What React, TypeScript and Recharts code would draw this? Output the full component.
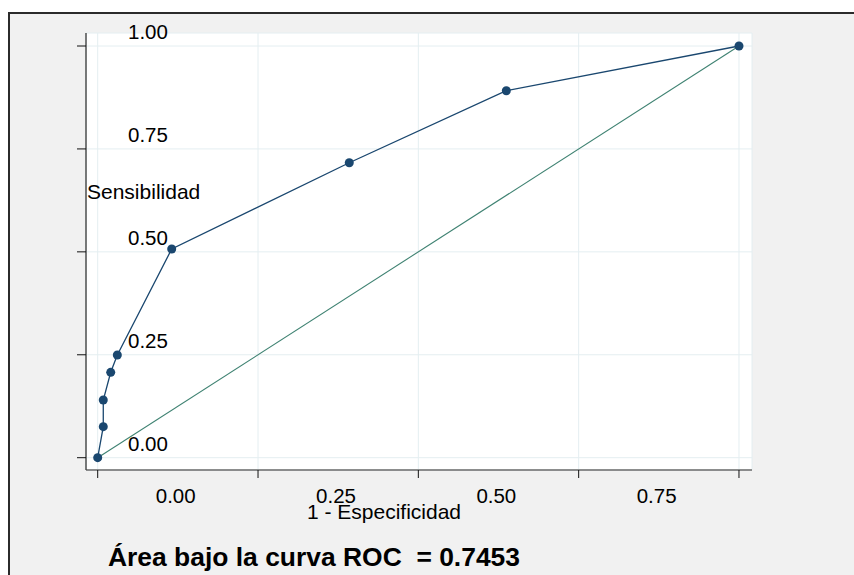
import React from 'react';
import { LineChart, Line, XAxis, YAxis, CartesianGrid } from 'recharts';

// ROC curve points (1 - specificity, sensitivity)
const fpr = [0, 0.0087, 0.0087, 0.0203, 0.0306, 0.1154, 0.3923, 0.6372, 1];
const sens = [0, 0.0753, 0.14, 0.2074, 0.2494, 0.5069, 0.7165, 0.8914, 1];
// reference (chance) line
const refX = [0, 1];
const refY = [0, 1];

const xTicks = [0, 0.25, 0.5, 0.75, 1];
const yTicks = [0, 0.25, 0.5, 0.75, 1];
const xTickLabels = ['0.00', '0.25', '0.50', '0.75', ''];
const yTickLabels = ['0.00', '0.25', '0.50', '0.75', '1.00'];

const xTitle = '1 - Especificidad';
const yTitle = 'Sensibilidad';
const noteText = 'Área bajo la curva ROC  = 0.7453';

const rocData = fpr.map((x, i) => ({ x, y: sens[i] }));
const refData = refX.map((x, i) => ({ x, y: refY[i] }));

const FONT = '"Liberation Sans", Arial, Helvetica, sans-serif';
const NAVY = '#1a476f';
const TEAL = '#3f8272';

const XTick = (props: any) => {
  const { x, y, payload } = props;
  const i = xTicks.indexOf(payload.value);
  const label = i >= 0 ? xTickLabels[i] : '';
  if (!label) return <g />;
  return (
    <text x={x + 78} y={y + 23} textAnchor="middle" fontSize={20.5} fill="#000" fontFamily={FONT}>
      {label}
    </text>
  );
};

const YTick = (props: any) => {
  const { x, y, payload } = props;
  const i = yTicks.indexOf(payload.value);
  const label = i >= 0 ? yTickLabels[i] : '';
  return (
    <text x={x + 53} y={y - 7} textAnchor="start" fontSize={20.5} fill="#000" fontFamily={FONT}>
      {label}
    </text>
  );
};

export default function App() {
  return (
    <div style={{ position: 'absolute', left: 0, top: 0, width: 854, height: 575, background: '#fff', overflow: 'hidden' }}>
      <div
        style={{
          position: 'absolute',
          left: 8,
          top: 12,
          width: 860,
          height: 580,
          background: '#f1f1f1',
          borderTop: '2px solid #2b2b2b',
          borderLeft: '2px solid #2b2b2b',
        }}
      />
      <div style={{ position: 'absolute', left: 0, top: 0 }}>
        <LineChart width={854} height={575} margin={{ top: 33, right: 102, bottom: 0, left: 8 }}>
          <CartesianGrid fill="#ffffff" stroke="#e4eef1" strokeWidth={1} />
          <XAxis
            type="number"
            dataKey="x"
            domain={[-0.01824, 1.0203]}
            ticks={xTicks}
            allowDataOverflow
            height={105}
            tickSize={8}
            tick={<XTick />}
            axisLine={{ stroke: '#6a6a6a', strokeWidth: 1.6 }}
            tickLine={{ stroke: '#111', strokeWidth: 1 }}
          />
          <YAxis
            type="number"
            dataKey="y"
            domain={[-0.0299, 1.0316]}
            ticks={yTicks}
            allowDataOverflow
            width={78}
            tickSize={9}
            tick={<YTick />}
            axisLine={{ stroke: '#444', strokeWidth: 1.4 }}
            tickLine={{ stroke: '#111', strokeWidth: 1 }}
          />
          <Line
            data={refData}
            dataKey="y"
            stroke={TEAL}
            strokeWidth={1.1}
            dot={false}
            isAnimationActive={false}
          />
          <Line
            data={rocData}
            dataKey="y"
            stroke={NAVY}
            strokeWidth={1.3}
            dot={{ r: 4.5, fill: NAVY, stroke: NAVY, strokeWidth: 0 }}
            isAnimationActive={false}
          />
        </LineChart>
      </div>
      <svg
        width={854}
        height={575}
        style={{ position: 'absolute', left: 0, top: 0, pointerEvents: 'none' }}
      >
        <text x={87} y={199} fontSize={21} fill="#000" fontFamily={FONT}>
          {yTitle}
        </text>
        <text x={384} y={519} textAnchor="middle" fontSize={21} fill="#000" fontFamily={FONT}>
          {xTitle}
        </text>
        <text
          x={108}
          y={566}
          fontSize={25}
          fontWeight="bold"
          fill="#000"
          fontFamily={FONT}
          textLength={412}
          lengthAdjust="spacingAndGlyphs"
          style={{ whiteSpace: 'pre' }}
        >
          {noteText}
        </text>
      </svg>
    </div>
  );
}
